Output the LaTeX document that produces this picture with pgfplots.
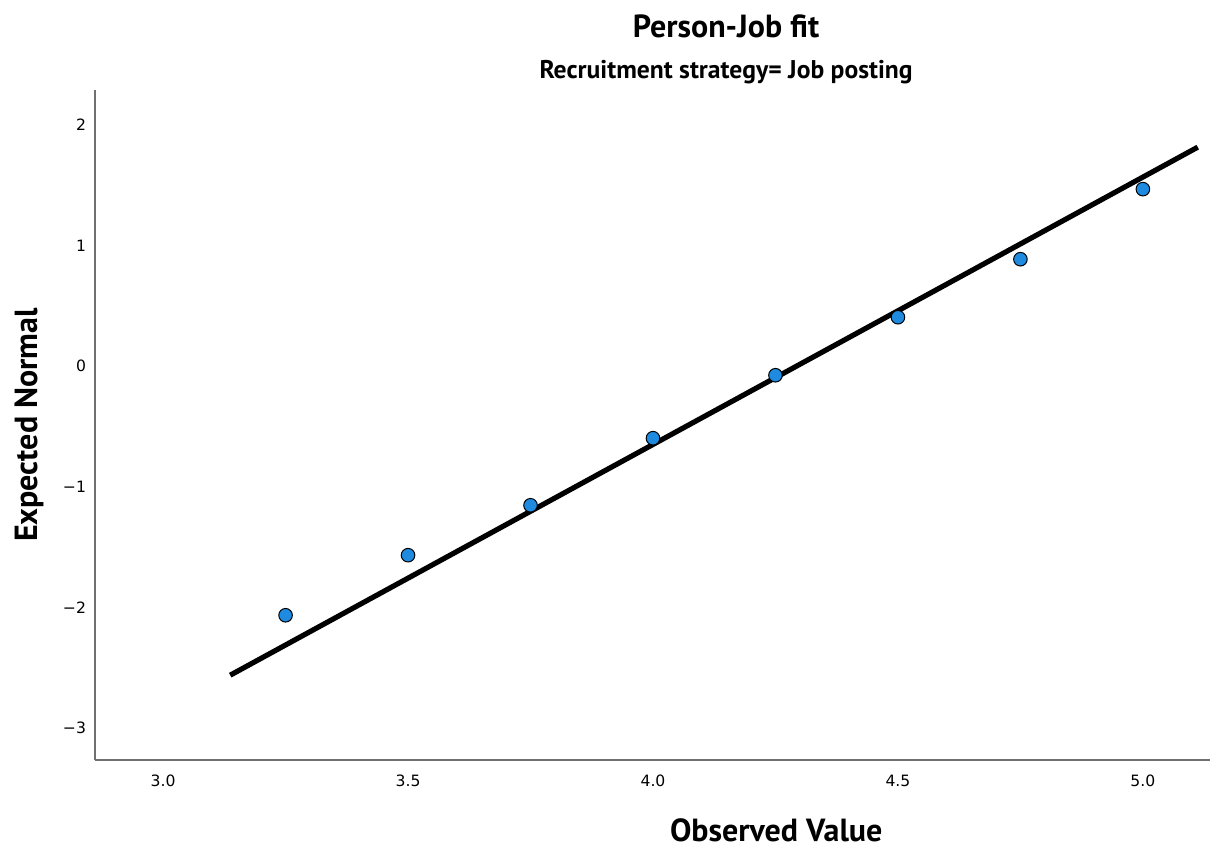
\documentclass[border=0pt]{standalone}
\usepackage{pgfplots}
\pgfplotsset{compat=1.18}
\usepackage{fontspec}
\setmainfont{PT Sans}
\newfontfamily\tickfont{DejaVu Sans}
\definecolor{ptblue}{HTML}{1E8BE0}
\definecolor{axgray}{HTML}{707070}
\begin{document}
\begin{tikzpicture}
% blank frame fixing the page size (1 px = 0.5 pt)
\path[use as bounding box] (-47.5pt,-45pt) rectangle (557.5pt,380pt);
\begin{axis}[
  at={(0,0)}, anchor=south west,
  width=557.5pt, height=335pt, scale only axis,
  xmin=2.861, xmax=5.137, ymin=-3.265, ymax=2.29,
  axis x line=bottom, axis y line=left,
  axis line style={axgray, line width=0.8pt, -},
  xtick={3.0,3.5,4.0,4.5,5.0}, ytick={-3,-2,-1,0,1,2},
  xticklabels={3.0,3.5,4.0,4.5,5.0},
  yticklabels={−3,−2,−1,0,1,2},
  major tick length=0pt,
  xticklabel style={font=\tickfont\fontsize{7.8}{9}\selectfont, yshift=-4pt},
  yticklabel style={font=\tickfont\fontsize{7.8}{9}\selectfont, xshift=-1pt},
  clip=false,
]
% fitted normal reference line
\addplot[black, line width=2.6pt, line cap=butt] coordinates {(3.137,-2.562) (5.112,1.816)};
% observed points
\addplot[only marks, mark=*, mark size=3.4pt,
  mark options={fill=ptblue, draw=black, line width=0.5pt}] coordinates {
  (3.25,-2.065) (3.50,-1.567) (3.75,-1.153) (4.00,-0.597)
  (4.25,-0.075) (4.50,0.406) (4.75,0.887) (5.00,1.468)};
\node[font=\bfseries\fontsize{16}{18}\selectfont] at ([yshift=32pt]rel axis cs:0.566,1) {Person-Job fit};
\node[font=\bfseries\fontsize{12.8}{14}\selectfont] at ([yshift=9pt]rel axis cs:0.566,1) {Recruitment strategy= Job posting};
\node[font=\bfseries\fontsize{16}{18}\selectfont] at ([yshift=-35pt]rel axis cs:0.611,0) {Observed Value};
\node[font=\bfseries\fontsize{16}{18}\selectfont, rotate=90] at ([xshift=-33pt]rel axis cs:0,0.5) {Expected Normal};
\end{axis}
\end{tikzpicture}
\end{document}
